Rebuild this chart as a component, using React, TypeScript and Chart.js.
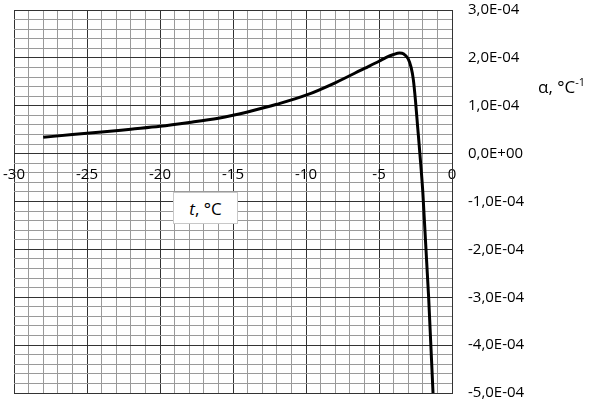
import React, { useEffect, useRef } from "react";
import { Chart, registerables } from "chart.js";

Chart.register(...registerables);

// temperature t, °C
const tValues = [
  -28, -26, -24, -22, -20, -18, -16, -15, -14, -12, -10, -8, -6, -5, -4.5, -4,
  -3.6, -3.3, -3.0, -2.8, -2.65, -2.5, -2.35, -2.2, -2.0, -1.6, -1.3,
];
// alpha, 1/°C
const alphaValues = [
  3.4e-5, 4.0e-5, 4.5e-5, 5.1e-5, 5.7e-5, 6.5e-5, 7.4e-5, 8.0e-5, 8.7e-5, 1.03e-4,
  1.22e-4, 1.48e-4, 1.78e-4, 1.93e-4, 2.01e-4, 2.07e-4, 2.1e-4, 2.08e-4, 1.98e-4,
  1.8e-4, 1.55e-4, 1.1e-4, 5.5e-5, 0, -8.0e-5, -3.0e-4, -5.0e-4,
];

const xMin = -30;
const xMax = 0;
const xMinorStep = 1;
const xMajorStep = 5;
const yMin = -5e-4;
const yMax = 3e-4;
const yMinorStep = 2e-5;
const yMajorStep = 1e-4;

const xTitle = "°C";
const yTitle = "α, °C";

const MAJOR = "#333333";
const MINOR = "#9a9a9a";
const FONT = "'Open Sans', sans-serif";

function formatY(v: number): string {
  const k = Math.round(v / yMajorStep);
  if (k === 0) return "0,0E+00";
  return (k < 0 ? "-" : "") + Math.abs(k) + ",0E-04";
}

function isMajorY(v: number): boolean {
  const r = v / yMajorStep;
  return Math.abs(r - Math.round(r)) < 1e-6;
}

function zeroPad(scale: any) {
  scale.paddingLeft = 0;
  scale.paddingRight = 0;
  scale.paddingTop = 0;
  scale.paddingBottom = 0;
}

export default function App() {
  const canvasRef = useRef<HTMLCanvasElement | null>(null);

  useEffect(() => {
    if (!canvasRef.current) return;
    const chart = new Chart(canvasRef.current, {
      type: "line",
      data: {
        datasets: [
          {
            data: tValues.map((t, i) => ({ x: t, y: alphaValues[i] })),
            borderColor: "#000",
            borderWidth: 3,
            pointRadius: 0,
            cubicInterpolationMode: "monotone",
            fill: false,
          },
        ],
      },
      options: {
        animation: false,
        responsive: false,
        maintainAspectRatio: false,
        layout: { padding: { left: 14, top: 10, bottom: 13, right: 0 } },
        plugins: { legend: { display: false }, tooltip: { enabled: false } },
        scales: {
          x: {
            type: "linear",
            position: { y: 0 } as any,
            min: xMin,
            max: xMax,
            border: { color: MAJOR, width: 1 },
            grid: {
              drawTicks: false,
              color: (ctx: any) =>
                ctx.tick && Math.abs(ctx.tick.value % xMajorStep) < 1e-9 ? MAJOR : MINOR,
              lineWidth: 1,
            },
            ticks: {
              stepSize: xMinorStep,
              autoSkip: false,
              maxRotation: 0,
              padding: 12,
              color: "#000",
              font: { family: FONT, size: 15 },
              callback: (v: any) => (Math.abs(Number(v) % xMajorStep) < 1e-9 ? String(v) : ""),
            },
            afterFit: zeroPad,
          },
          y: {
            type: "linear",
            position: "right",
            min: yMin,
            max: yMax,
            border: { color: MAJOR, width: 1 },
            grid: {
              drawTicks: false,
              color: (ctx: any) => (ctx.tick && isMajorY(ctx.tick.value) ? MAJOR : MINOR),
              lineWidth: 1,
            },
            ticks: {
              stepSize: yMinorStep,
              autoSkip: false,
              maxTicksLimit: 200,
              padding: 16,
              crossAlign: "near" as any,
              color: "#000",
              font: { family: FONT, size: 15 },
              callback: (v: any) => (isMajorY(Number(v)) ? formatY(Number(v)) : ""),
            },
            afterFit: (scale: any) => {
              scale.width = 138;
              zeroPad(scale);
            },
          },
        },
      },
    });
    return () => chart.destroy();
  }, []);

  return (
    <div style={{ position: "fixed", left: 0, top: 0, width: 590, height: 406, background: "#fff" }}>
      <canvas ref={canvasRef} width={590} height={406} style={{ width: 590, height: 406, display: "block" }} />
      <div
        style={{
          position: "absolute",
          left: 538,
          top: 72,
          fontFamily: FONT,
          fontSize: 17,
          lineHeight: "20px",
          color: "#000",
          whiteSpace: "nowrap",
        }}
      >
        {yTitle}
        <sup style={{ fontSize: 11, verticalAlign: "7px" }}>-1</sup>
      </div>
      <div
        style={{
          position: "absolute",
          left: 173,
          top: 192,
          width: 63,
          height: 30,
          border: "1px solid #c8c8c8",
          background: "#fff",
          display: "flex",
          alignItems: "center",
          justifyContent: "center",
          fontFamily: FONT,
          fontSize: 17,
          color: "#000",
          whiteSpace: "nowrap",
        }}
      >
        <i>t</i>,&nbsp;{xTitle}
      </div>
    </div>
  );
}
